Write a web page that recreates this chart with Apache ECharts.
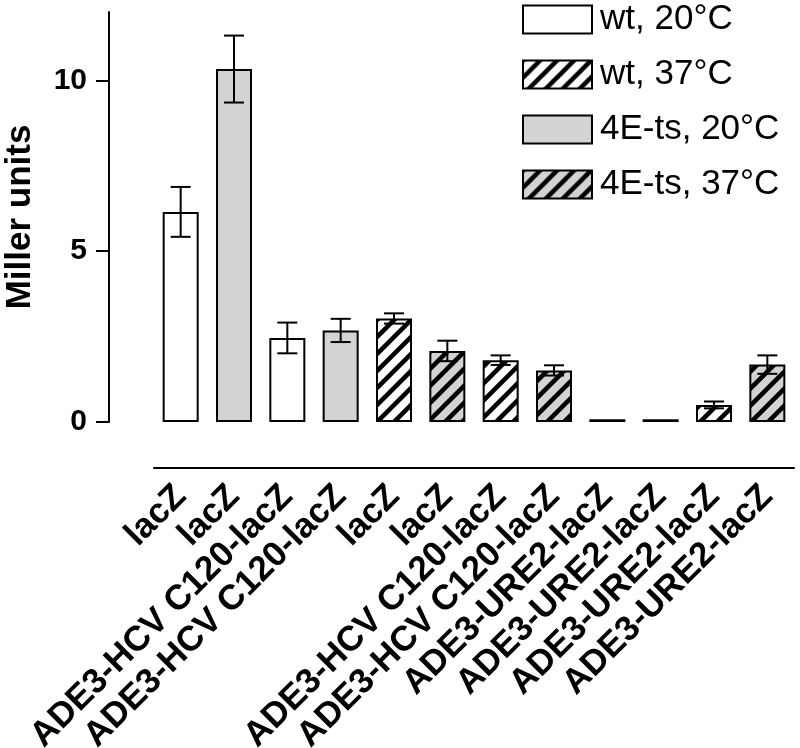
<!DOCTYPE html>
<html>
<head>
<meta charset="utf-8">
<script src="https://cdn.jsdelivr.net/npm/echarts@6/dist/echarts.min.js"></script>
<style>html,body{margin:0;padding:0;background:#fff}#c{width:800px;height:748px}</style>
</head>
<body>
<div id="c"></div>
<script>
const categories = ['lacZ','lacZ','ADE3-HCV C120-lacZ','ADE3-HCV C120-lacZ','lacZ','lacZ','ADE3-HCV C120-lacZ','ADE3-HCV C120-lacZ','ADE3-URE2-lacZ','ADE3-URE2-lacZ','ADE3-URE2-lacZ','ADE3-URE2-lacZ'];
const seriesNames = ['wt, 20°C','wt, 37°C','4E-ts, 20°C','4E-ts, 37°C'];
// which series each bar belongs to (index into seriesNames)
const barGroup = [0,2,0,2,1,3,1,3,0,2,1,3];
const values = [6.15,10.33,2.46,2.68,3.03,2.08,1.81,1.51,0.08,0.08,0.5,1.68];
const errors = [0.73,0.98,0.45,0.34,0.15,0.3,0.14,0.15,0,0,0.1,0.27];
const yTicks = [0,5,10];

const FONT = '"Liberation Sans", Arial, sans-serif';
const GRAY = '#d3d3d3';

function hatch(bg){
  const s = 17;
  const c = document.createElement('canvas');
  c.width = s; c.height = s;
  const g = c.getContext('2d');
  g.fillStyle = bg; g.fillRect(0,0,s,s);
  g.strokeStyle = '#000'; g.lineWidth = 4.5;
  g.beginPath();
  g.moveTo(-1,s+1); g.lineTo(s+1,-1);
  g.moveTo(-s/2-1,s/2+1); g.lineTo(s/2+1,-s/2-1);
  g.moveTo(s/2-1,s+s/2+1); g.lineTo(s+s/2+1,s/2-1);
  g.stroke();
  return c;
}
const fills = ['#ffffff', {image: hatch('#ffffff'), repeat:'repeat'}, GRAY, {image: hatch(GRAY), repeat:'repeat'}];

const barSeries = seriesNames.map((name, si) => ({
  name,
  type: 'bar',
  barWidth: 36,
  barGap: '-100%',
  itemStyle: {color: fills[si], borderColor: '#000', borderWidth: 2},
  data: values.map((v,i) => barGroup[i] === si ? v : '-'),
  z: 2
}));

const errData = values.map((v,i) => [i, v - errors[i], v + errors[i], errors[i]]);

const errSeries = {
  type: 'custom',
  z: 5,
  silent: true,
  data: errData,
  renderItem: function(params, api){
    if (api.value(3) <= 0) return null;
    const lo = api.coord([api.value(0), api.value(1)]);
    const hi = api.coord([api.value(0), api.value(2)]);
    const hw = 10;
    const st = {stroke:'#000', lineWidth:2};
    return {type:'group', children:[
      {type:'line', shape:{x1:lo[0],y1:lo[1],x2:hi[0],y2:hi[1]}, style:st},
      {type:'line', shape:{x1:lo[0]-hw,y1:lo[1],x2:lo[0]+hw,y2:lo[1]}, style:st},
      {type:'line', shape:{x1:hi[0]-hw,y1:hi[1],x2:hi[0]+hw,y2:hi[1]}, style:st}
    ]};
  }
};

const chart = echarts.init(document.getElementById('c'), null, {renderer:'canvas'});
chart.setOption({
  animation: false,
  backgroundColor: '#fff',
  textStyle: {fontFamily: FONT},
  grid: {left: 154, right: 6, top: 12, bottom: 326, containLabel: false, outerBoundsMode: 'none'},
  legend: {
    orient: 'vertical', left: 517, top: -3,
    itemWidth: 69, itemHeight: 28, itemGap: 20,
    icon: 'rect',
    data: seriesNames,
    textStyle: {fontFamily: FONT, fontSize: 35, color: '#000', padding: [0,0,0,3]},
    itemStyle: {borderColor:'#000', borderWidth: 2}
  },
  xAxis: {
    type: 'category',
    data: categories,
    offset: 46,
    axisLine: {onZero: false, lineStyle: {color:'#000', width: 2}},
    axisTick: {show: false},
    axisLabel: {rotate: 45, interval: 0, margin: 23, fontFamily: FONT, fontSize: 35, fontWeight: 'bold', color: '#000'}
  },
  yAxis: {
    type: 'value',
    min: 0, max: 12, interval: 5,
    offset: 45,
    name: 'Miller units',
    nameLocation: 'middle',
    nameGap: 71,
    nameTextStyle: {fontFamily: FONT, fontSize: 35, fontWeight: 'bold', color: '#000'},
    splitLine: {show: false},
    axisLine: {show: true, onZero: false, lineStyle: {color:'#000', width: 2}},
    axisTick: {show: true, length: 13, lineStyle: {color:'#000', width: 2}, customValues: yTicks},
    axisLabel: {fontFamily: FONT, fontSize: 30, fontWeight: 'bold', color: '#000', margin: 22, customValues: yTicks}
  },
  series: [...barSeries, errSeries]
});
</script>
</body>
</html>
